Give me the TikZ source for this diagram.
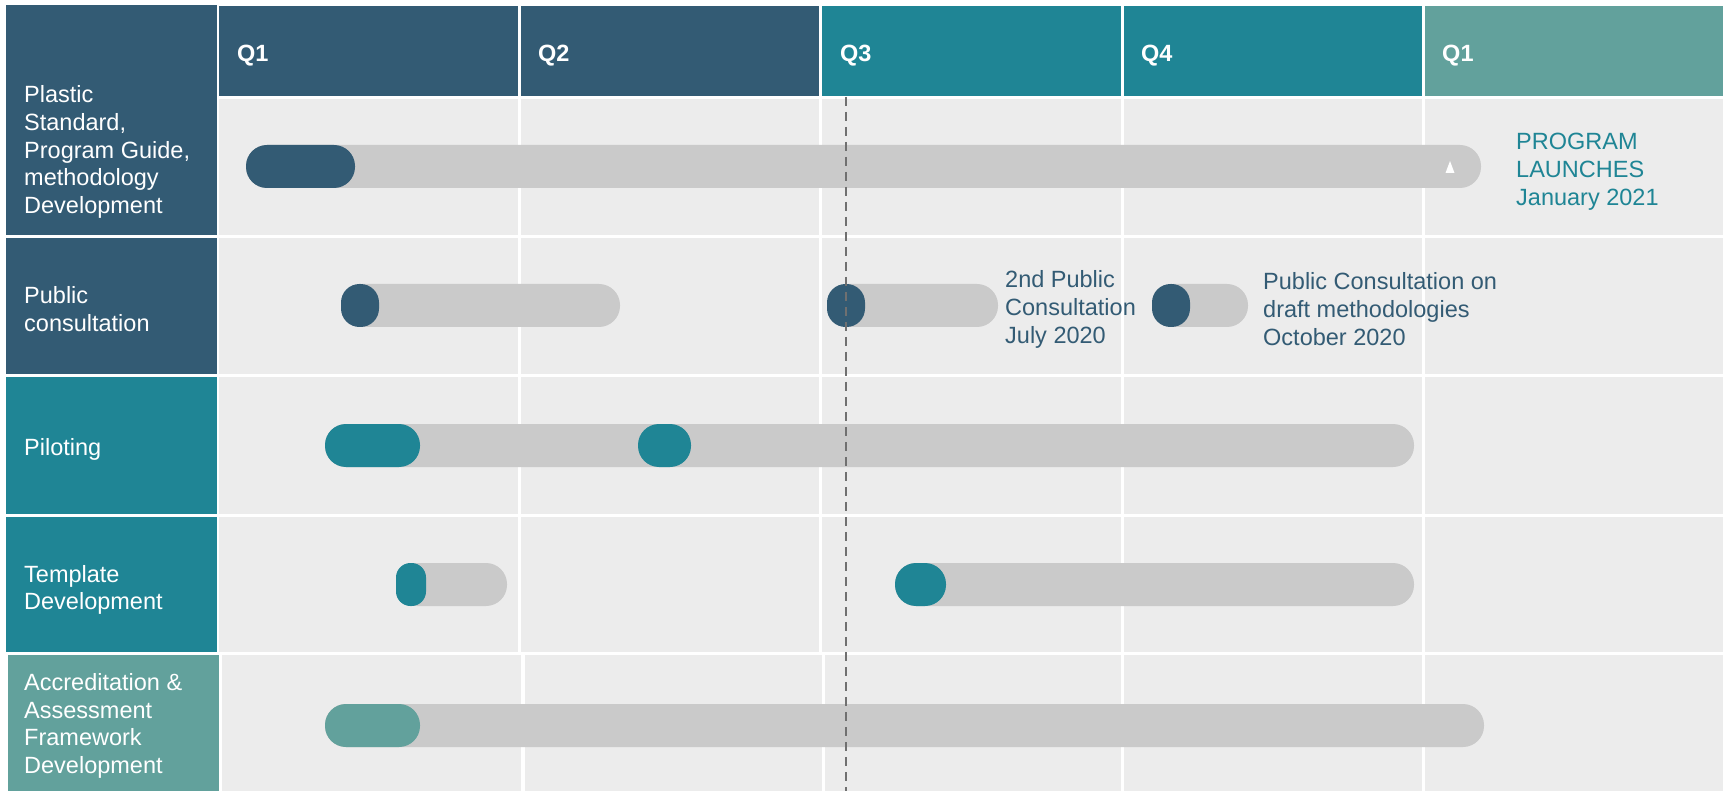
\documentclass[tikz,border=0pt]{standalone}
\usepackage{fontspec}
\setmainfont{Liberation Sans}
\definecolor{dblue}{HTML}{335B74}
\definecolor{tealA}{HTML}{1F8595}
\definecolor{ltealA}{HTML}{62A19C}
\definecolor{cellgray}{HTML}{ECECEC}
\definecolor{bargray}{HTML}{CACACA}
\definecolor{dashgray}{HTML}{707070}
\begin{document}
\begin{tikzpicture}[x=1pt,y=-1pt,
  lbl/.style={anchor=west, inner sep=0pt, align=left, text=white, font=\fontsize{23.5}{27.8}\selectfont},
  qlbl/.style={anchor=west, inner sep=0pt, text=white, font=\fontsize{23.5}{28}\selectfont\bfseries},
  note/.style={anchor=west, inner sep=0pt, align=left, font=\fontsize{23.5}{28}\selectfont},
  pill/.style={rounded corners=21pt},
  ]
\useasboundingbox (0,0) rectangle (1729,791);
\fill[white] (0,0) rectangle (1729,791);
% header cells
\fill[dblue] (219,6) rectangle (518,96);
\fill[dblue] (521,6) rectangle (819,96);
\fill[tealA] (822,6) rectangle (1121,96);
\fill[tealA] (1124,6) rectangle (1422,96);
\fill[ltealA] (1425,6) rectangle (1723,96);
% label cells
\fill[dblue] (6,5) rectangle (217,235);
\fill[dblue] (6,238) rectangle (217,374);
\fill[tealA] (6,377) rectangle (217,514);
\fill[tealA] (6,517) rectangle (217,652);
\fill[ltealA] (8,655) rectangle (219,791);
% gray cells rows 1-4
\foreach \ya/\yb in {99/235, 238/374, 377/514, 517/652}{
  \foreach \xa/\xb in {219/518, 521/819, 822/1121, 1124/1422, 1425/1723}{
    \fill[cellgray] (\xa,\ya) rectangle (\xb,\yb);
  }
}
% row 5 (slightly shifted)
\foreach \xa/\xb in {222/521, 525/822, 825/1121, 1124/1422, 1425/1723}{
  \fill[cellgray] (\xa,655) rectangle (\xb,791);
}
% header labels
\node[qlbl] (q1) at (237,56) {Q1};
\node[qlbl] (q2) at (538,56) {Q2};
\node[qlbl] (q3) at (840,56) {Q3};
\node[qlbl] (q4) at (1141,56) {Q4};
\node[qlbl] (q5) at (1442,56) {Q1};
% row labels
\node[lbl] (r1) at (24,152) {Plastic\\Standard,\\Program Guide,\\methodology\\Development};
\node[lbl] (r2) at (24,309) {Public\\consultation};
\node[lbl] (r3) at (24,449) {Piloting};
\node[lbl] (r4) at (24,590) {Template\\Development};
\node[lbl] (r5) at (24,726) {Accreditation \&\\Assessment\\Framework\\Development};
% today line
\coordinate (todayA) at (846,97);
\coordinate (todayB) at (846,791);
% row 1 bars
\fill[bargray, pill] (246,145) rectangle (1481,188);
\fill[dblue, pill] (246,145) rectangle (355,188);
\fill[white] (1445.5,173) -- (1454.5,173) -- (1450,161) -- cycle;
% row 2 bars
\fill[bargray, pill] (341,284) rectangle (620,327);
\fill[dblue, rounded corners=18.5pt] (341,284) rectangle (379,327);
\fill[bargray, pill] (827,284) rectangle (998,327);
\fill[dblue, rounded corners=18.5pt] (827,284) rectangle (865,327);
\fill[bargray, pill] (1152,284) rectangle (1248,327);
\fill[dblue, rounded corners=18.5pt] (1152,284) rectangle (1190,327);
% row 3 bars
\fill[bargray, pill] (325,424) rectangle (1414,467);
\fill[tealA, pill] (325,424) rectangle (420,467);
\fill[tealA, pill] (638,424) rectangle (691,467);
% row 4 bars
\fill[bargray, pill] (396,563) rectangle (507,606);
\fill[tealA, rounded corners=14.5pt] (396,563) rectangle (426,606);
\fill[bargray, pill] (895,563) rectangle (1414,606);
\fill[tealA, pill] (895,563) rectangle (946,606);
% row 5 bars
\fill[bargray, pill] (325,704) rectangle (1484,747);
\fill[ltealA, pill] (325,704) rectangle (420,747);
% dashed today line
\draw[dashgray, line width=1.5pt, dash pattern=on 9pt off 6pt] (todayA) -- (todayB);
% notes
\node[note, text=tealA] (launch) at (1516,172) {PROGRAM\\LAUNCHES\\January 2021};
\node[note, text=dblue] (pc2) at (1005,309) {2nd Public\\Consultation\\July 2020};
\node[note, text=dblue] (pc3) at (1263,309) {Public Consultation on\\draft methodologies\\October 2020};
\end{tikzpicture}
\end{document}
